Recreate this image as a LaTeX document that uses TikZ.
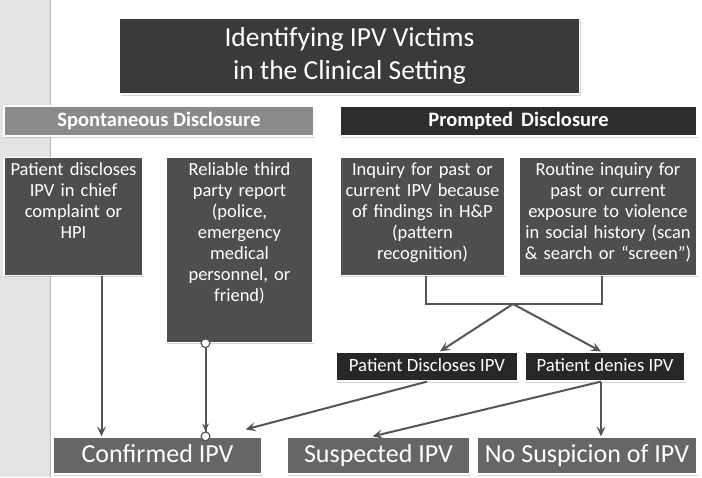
\documentclass[tikz,border=0pt]{standalone}
\usepackage{fontspec}
\setmainfont{Carlito}
\usetikzlibrary{positioning,shadows,arrows.meta}
\definecolor{titlegray}{HTML}{3A3A3A}
\definecolor{spontgray}{HTML}{8A8A8A}
\definecolor{promptgray}{HTML}{2D2D2D}
\definecolor{midgray}{HTML}{4E4E4E}
\definecolor{answergray}{HTML}{272727}
\definecolor{outgray}{HTML}{666666}
\definecolor{linegray}{HTML}{555555}
\definecolor{stripgray}{HTML}{E3E3E3}

\begin{document}
\begin{tikzpicture}[x=1pt,y=-1pt,
	box/.style = {rectangle, draw=white, line width=1.2pt, text=white, inner sep=2pt,
		drop shadow={shadow xshift=1.2pt, shadow yshift=-1.5pt, opacity=0.35}},
	headbox/.style = {box, minimum height=30pt, text height=14pt, text depth=4pt,
		font=\bfseries\fontsize{20.5}{24}\selectfont},
	textbox/.style = {box, fill=midgray, anchor=north, align=center, inner ysep=4pt,
		text height=14pt, font=\fontsize{18.5}{21}\selectfont},
	answerbox/.style = {box, fill=answergray, minimum height=29pt, text height=13pt, text depth=4pt,
		font=\fontsize{18.7}{21}\selectfont},
	outbox/.style = {box, fill=outgray, minimum height=37pt, text height=18pt, text depth=5pt,
		font=\fontsize{26}{29}\selectfont},
	line/.style = {draw=linegray, line width=2pt},
	arr/.style = {line, -{Stealth[length=10pt,width=9pt,inset=4pt]}},
	dotarr/.style = {line, {Circle[length=10pt,fill=white,line width=1.2pt]}-{Stealth[length=8pt,width=7pt,inset=3pt] Circle[length=10pt,fill=white,line width=1.2pt]}},
]
\useasboundingbox (0,0) rectangle (702,477);
\fill[stripgray] (0,0) rectangle (50,477);
\draw[gray!55, line width=0.8pt] (50,0) -- (50,477);

\node[box, fill=titlegray, minimum width=460pt, minimum height=76pt, align=center,
	font=\fontsize{27.5}{33}\selectfont] (title) at (349.5,56) {Identifying IPV Victims\\ in the Clinical Setting};

\node[headbox, fill=spontgray, minimum width=310pt] (spont) at (159,121) {Spontaneous Disclosure};
\node[headbox, fill=promptgray, minimum width=357pt] (prompt) at (518.5,121) {Prompted\, Disclosure};

\node[textbox, text width=135pt, text depth=96pt] (chief) at (73.5,157) {Patient discloses\\ IPV in chief\\ complaint or\\ HPI};
\node[textbox, text width=143pt, text depth=163pt] (third) at (239.5,157) {Reliable third\\ party report\\ (police,\\ emergency\\ medical\\ personnel, or\\ friend)};
\node[textbox, text width=161pt, text depth=96pt] (inquiry) at (422.5,157) {Inquiry for past or\\ current IPV because\\ of findings in H\&P\\ (pattern\\ recognition)};
\node[textbox, text width=174pt, text depth=96pt] (routine) at (608,157) {Routine inquiry for\\ past or current\\ exposure to violence\\ in social history (scan\\ \& search or “screen”)};

\node[answerbox, minimum width=182pt] (discl) at (427,366.5) {Patient Discloses IPV};
\node[answerbox, minimum width=160pt] (deny) at (605,366.5) {Patient denies IPV};

\node[outbox, minimum width=209pt] (conf) at (157.5,455.5) {Confirmed IPV};
\node[outbox, minimum width=183pt] (susp) at (378.5,455.5) {Suspected IPV};
\node[outbox, minimum width=220pt] (nosusp) at (587,455.5) {No Suspicion of IPV};

\coordinate (join) at (513,304);

\draw[arr] ([xshift=28pt]chief.south) -- ([xshift=28pt]chief.south |- conf.north);
\draw[dotarr, shorten <=-5pt, shorten >=-5pt] ([xshift=-34pt]third.south) -- ([xshift=-34pt]third.south |- conf.north);
\draw[line] ([xshift=3pt]inquiry.south) |- (join) -| ([xshift=-6pt]routine.south);
\draw[arr] (join) -- ([xshift=13pt]discl.north);
\draw[arr] (join) -- ([xshift=-4pt]deny.north);
\draw[arr] (discl.south) -- ([xshift=-17pt,yshift=7pt]conf.north east);
\draw[arr] ([xshift=-4pt]deny.south) -- ([xshift=-6pt]susp.north);
\draw[arr] ([xshift=-4pt]deny.south) -- ([xshift=-4pt]deny.south |- nosusp.north);

\end{tikzpicture}
\end{document}
